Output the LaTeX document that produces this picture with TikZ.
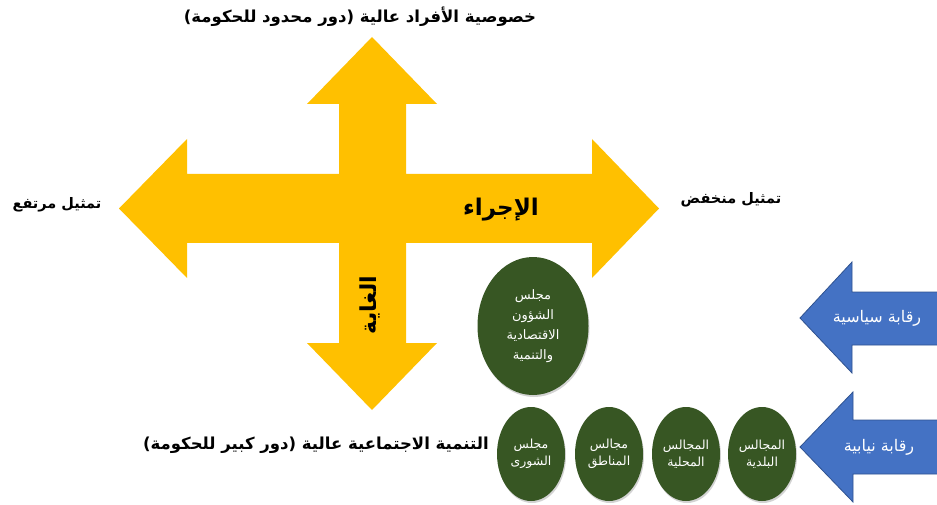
\documentclass[tikz,border=0pt]{standalone}
\usepackage{fontspec}
\newfontfamily\ar[Script=Arabic]{DejaVu Sans}
\TeXXeTstate=1
\usetikzlibrary{shadows,shapes.geometric}
\definecolor{gold}{HTML}{FFC000}
\definecolor{leaf}{HTML}{375623}
\definecolor{bluefill}{HTML}{4472C4}
\definecolor{blueedge}{HTML}{2F528F}
\tikzset{
  lbl/.style={font=\ar\bfseries\fontsize{14.5}{17}\selectfont, text=black, inner sep=0pt},
  longlbl/.style={lbl, font=\ar\bfseries\fontsize{16.5}{19}\selectfont},
  council/.style={ellipse, fill=leaf, draw=none, minimum width=68pt, minimum height=94pt, inner sep=0pt,
     text=white, align=center, font=\ar\fontsize{12.5}{17}\selectfont, drop shadow={opacity=0.35, shadow xshift=1pt, shadow yshift=-2pt}},
  bluearrow/.style={fill=bluefill, draw=blueedge, line width=0.8pt},
  arrowtext/.style={text=white, font=\ar\fontsize{16}{18}\selectfont, inner sep=0pt}
}
\begin{document}
\begin{tikzpicture}[x=1pt,y=-1pt]
\useasboundingbox (0,0) rectangle (937,505);
% yellow cross arrow
\fill[gold] (372,37) -- (437,104) -- (406,104) -- (406,174) -- (592,174) -- (592,139) -- (659,208.5)
  -- (592,278) -- (592,243) -- (406,243) -- (406,343) -- (437,343) -- (372,410) -- (307,343)
  -- (339,343) -- (339,243) -- (187,243) -- (187,278) -- (119,208.5) -- (187,139) -- (187,174)
  -- (339,174) -- (339,104) -- (307,104) -- cycle;
\node[lbl, font=\ar\bfseries\fontsize{23}{25}\selectfont] (ijraa) at (501,210) {\beginR الإجراء\endR};
\node[lbl, font=\ar\bfseries\fontsize{22}{24}\selectfont, rotate=90] (ghaya) at (370,305) {\beginR الغاية\endR};
% axis labels
\node[longlbl] (top) at (360,17) {\beginR خصوصية الأفراد عالية (دور محدود للحكومة)\endR};
\node[lbl] (left) at (57,205) {\beginR تمثيل مرتفع\endR};
\node[lbl] (right) at (731,200) {\beginR تمثيل منخفض\endR};
\node[longlbl] (bottom) at (316,445) {\beginR التنمية الاجتماعية عالية (دور كبير للحكومة)\endR};
% councils
\node[council, minimum width=111pt, minimum height=138pt, font=\ar\fontsize{13}{20}\selectfont] (econ) at (533,326) {\beginR مجلس\endR\\\beginR الشؤون\endR\\\beginR الاقتصادية\endR\\\beginR والتنمية\endR};
\node[council] (shura) at (531,454) {\beginR مجلس\endR\\\beginR الشورى\endR};
\node[council] (regions) at (609,454) {\beginR مجالس\endR\\\beginR المناطق\endR};
\node[council] (local) at (686,454) {\beginR المجالس\endR\\\beginR المحلية\endR};
\node[council] (munic) at (762,454) {\beginR المجالس\endR\\\beginR البلدية\endR};
% blue arrows
\draw[bluearrow] (800,318) -- (852,262) -- (852,292) -- (945,292) -- (945,345) -- (852,345) -- (852,373) -- cycle;
\node[arrowtext] (pol) at (877,318) {\beginR رقابة سياسية\endR};
\draw[bluearrow] (800,447) -- (853,392) -- (853,420) -- (945,420) -- (945,474) -- (853,474) -- (853,502) -- cycle;
\node[arrowtext] (parl) at (879,447) {\beginR رقابة نيابية\endR};
\end{tikzpicture}
\end{document}
